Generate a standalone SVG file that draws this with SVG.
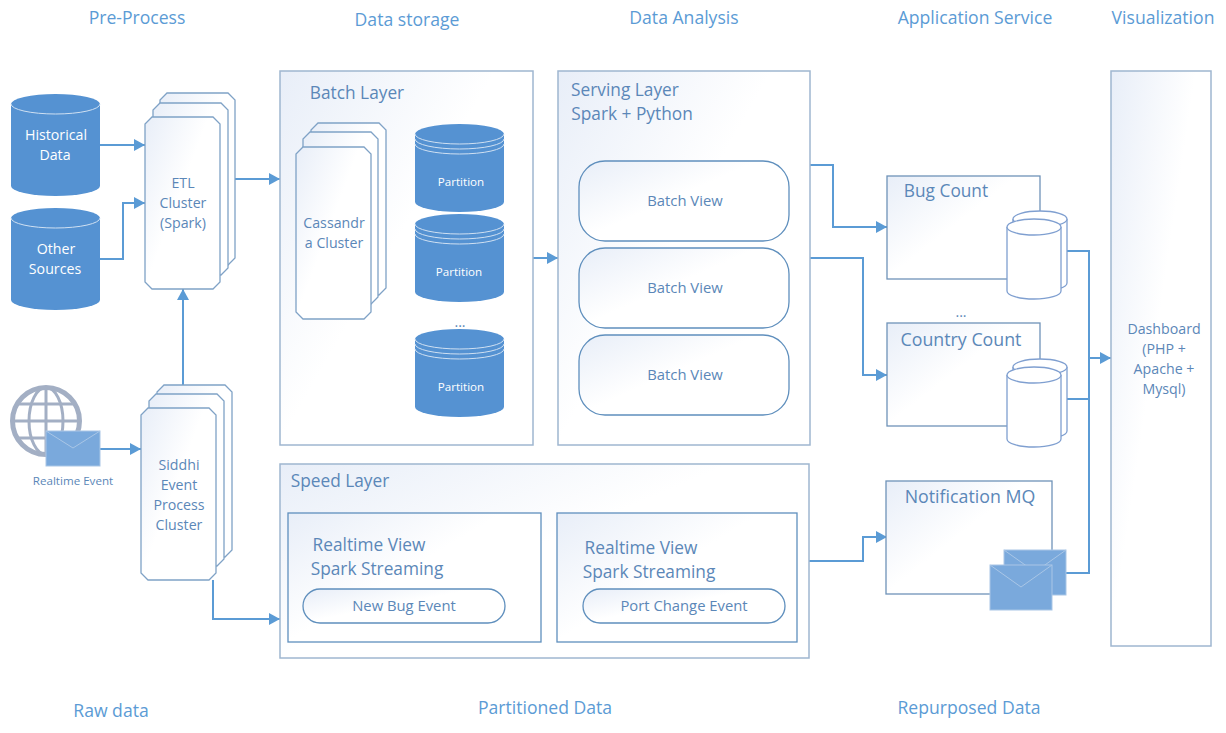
<svg xmlns="http://www.w3.org/2000/svg" xmlns:xlink="http://www.w3.org/1999/xlink" width="1226" height="733" viewBox="0 0 1226 733">
<style>
text{font-family:"Open Sans","Noto Sans","Liberation Sans",sans-serif;text-anchor:middle;fill:#5b87b8;font-size:14.2px}
.head{font-size:17.6px;fill:#5b9bd5}
.title{font-size:17.3px;fill:#5b87b8}
.wide{font-size:17.8px}
.mid{font-size:14.8px}
.white{fill:#fff}
.small{font-size:11.6px}
.box{fill:url(#g);stroke:#6f93b8;stroke-width:1.3}
.layer{fill:url(#g);stroke:#9fb6d0;stroke-width:1.5}
.inner{fill:url(#g);stroke:#5f8fbd;stroke-width:1.3}
.card{fill:url(#g);stroke:#7fa2c6;stroke-width:1.3}
.cyl{fill:#fff;stroke:#7f9fd0;stroke-width:1.3}
.blue{fill:#5592d2}
.env{fill:#7aa9dc;stroke:#a9c6e6;stroke-width:1}
.flap{fill:none;stroke:#a9c6e6;stroke-width:1}
.wire{fill:none;stroke:#5b9bd5;stroke-width:2;marker-end:url(#a)}
.plain{fill:none;stroke:#5b9bd5;stroke-width:2}
</style>
<defs>
<linearGradient id="g" x1="0" y1="0" x2="0.7" y2="0.6"><stop offset="0" stop-color="#e8eef8"/><stop offset="0.7" stop-color="#fff"/></linearGradient>
<marker id="a" markerUnits="userSpaceOnUse" markerWidth="12" markerHeight="12" refX="11" refY="6" orient="auto"><path d="M0 0L11 6L0 12Z" fill="#5b9bd5"/></marker>
<path id="oct" d="M7 0H68L75 7V165L68 172H7L0 165V7Z"/>
<g id="db"><path class="blue" d="M0 10A44.500 10 0 0 1 89 10V92A44.500 10 0 0 1 0 92Z"/><path d="M0 10A44.500 10 0 0 0 89 10" fill="none" stroke="#cfe0f2" stroke-width="1"/></g>
<g id="part"><path class="blue" d="M0 10A44.500 10 0 0 1 89 10V78A44.500 10 0 0 1 0 78Z"/><path d="M0 10A44.500 10 0 0 0 89 10M0 15A44.500 10 0 0 0 89 15M0 20A44.500 10 0 0 0 89 20" fill="none" stroke="#cfe0f2" stroke-width="1"/></g>
<g id="can"><path class="cyl" d="M0 8A27 8 0 0 1 54 8V72A27 8 0 0 1 0 72Z"/><path class="cyl" d="M0 8A27 8 0 0 0 54 8" fill="none"/></g>
<g id="mail"><rect class="env" width="62" height="45"/><path class="flap" d="M0 0L31 22L62 0"/></g>
</defs>

<g id="headings">
<text class="head" x="137" y="24">Pre-Process</text>
<text class="head" x="407" y="26">Data storage</text>
<text class="head" x="684" y="24">Data Analysis</text>
<text class="head" x="975" y="24">Application Service</text>
<text class="head" x="1163" y="24">Visualization</text>
<text class="head" x="111" y="717">Raw data</text>
<text class="head" x="545" y="714">Partitioned Data</text>
<text class="head" x="969" y="714">Repurposed Data</text>
</g>

<g id="connectors">
<path class="wire" d="M100 145H145"/>
<path class="wire" d="M100 259H123V203H145"/>
<path class="wire" d="M235 179H280"/>
<path class="wire" d="M183 385V289"/>
<path class="wire" d="M100 449H141"/>
<path class="wire" d="M213 580V619H280"/>
<path class="wire" d="M533 258H558"/>
<path class="wire" d="M810 165H833V227H887"/>
<path class="wire" d="M810 258H863V375H887"/>
<path class="wire" d="M809 561H863V537H887"/>
<path class="plain" d="M1067 251H1089V573H1066"/>
<path class="plain" d="M1067 399H1089"/>
<path class="wire" d="M1089 358H1111"/>
</g>

<g id="historical"><use href="#db" x="11" y="94"/><text class="white" x="56" y="140">Historical</text><text class="white" x="55" y="160">Data</text></g>
<g id="other"><use href="#db" x="11" y="208"/><text class="white" x="56" y="254">Other</text><text class="white" x="55" y="274">Sources</text></g>

<g id="etl">
<use href="#oct" class="card" x="160" y="93"/><use href="#oct" class="card" x="153" y="103"/><use href="#oct" class="card" x="145" y="117"/>
<text x="183" y="188">ETL</text><text x="183" y="208">Cluster</text><text x="183" y="228">(Spark)</text>
</g>

<g id="realtime-event">
<g fill="none" stroke="#a3afc4"><circle cx="46" cy="421" r="33.500" stroke-width="5"/><ellipse cx="46" cy="421" rx="17" ry="33.500" stroke-width="3"/><path d="M46 387V455M13 421H79M18 404H74M18 438H74" stroke-width="3"/></g>
<rect class="env" x="46" y="431" width="54" height="35"/><path class="flap" d="M46 431L73 448L100 431"/>
<text class="small" x="73" y="485">Realtime Event</text>
</g>

<g id="siddhi">
<use href="#oct" class="card" x="157" y="385"/><use href="#oct" class="card" x="149" y="394"/><use href="#oct" class="card" x="141" y="408"/>
<text x="179" y="470">Siddhi</text><text x="179" y="490">Event</text><text x="179" y="510">Process</text><text x="179" y="530">Cluster</text>
</g>

<g id="batch-layer">
<rect class="layer" x="280" y="71" width="253" height="374"/>
<text class="title" x="357" y="99">Batch Layer</text>
</g>
<g id="cassandra">
<use href="#oct" class="card" x="311" y="123"/><use href="#oct" class="card" x="303" y="132"/><use href="#oct" class="card" x="296" y="147"/>
<text x="334" y="228">Cassandr</text><text x="334" y="248">a Cluster</text>
</g>
<g id="partition-1"><use href="#part" x="415" y="124"/><text class="white small" x="461" y="186">Partition</text></g>
<g id="partition-2"><use href="#part" x="415" y="214"/><text class="white small" x="459" y="276">Partition</text></g>
<text x="460" y="327">...</text>
<g id="partition-3"><use href="#part" x="415" y="329"/><text class="white small" x="461" y="391">Partition</text></g>

<g id="serving-layer">
<rect class="layer" x="558" y="71" width="252" height="374"/>
<text class="title" x="625" y="96">Serving Layer</text><text class="title" x="632" y="120">Spark + Python</text>
</g>
<g id="batch-view-1"><rect class="inner" x="579" y="161" width="210" height="80" rx="26"/><text class="mid" x="685" y="206">Batch View</text></g>
<g id="batch-view-2"><rect class="inner" x="579" y="248" width="210" height="80" rx="26"/><text class="mid" x="685" y="293">Batch View</text></g>
<g id="batch-view-3"><rect class="inner" x="579" y="335" width="210" height="80" rx="26"/><text class="mid" x="685" y="380">Batch View</text></g>

<g id="speed-layer">
<rect class="layer" x="280" y="464" width="529" height="194"/>
<text class="title" x="340" y="487">Speed Layer</text>
</g>
<g id="realtime-view-1">
<rect class="inner" x="288" y="513" width="253" height="129"/>
<text class="title" x="369" y="551">Realtime View</text><text class="title" x="377" y="575">Spark Streaming</text>
<rect class="inner" x="303" y="589" width="202" height="34" rx="17"/><text class="mid" x="404" y="611">New Bug Event</text>
</g>
<g id="realtime-view-2">
<rect class="inner" x="557" y="513" width="240" height="129"/>
<text class="title" x="641" y="554">Realtime View</text><text class="title" x="649" y="578">Spark Streaming</text>
<rect class="inner" x="583" y="589" width="202" height="34" rx="17"/><text class="mid" x="684" y="611">Port Change Event</text>
</g>

<g id="bug-count">
<rect class="box" x="887" y="176" width="153" height="103"/>
<text class="title" x="946" y="197">Bug Count</text>
<use href="#can" x="1013" y="211"/><use href="#can" x="1007" y="219"/>
</g>
<text x="961" y="317">...</text>
<g id="country-count">
<rect class="box" x="887" y="323" width="153" height="103"/>
<text class="title wide" x="961" y="346">Country Count</text>
<use href="#can" x="1013" y="359"/><use href="#can" x="1007" y="367"/>
</g>
<g id="notification-mq">
<rect class="box" x="886" y="481" width="166" height="113"/>
<text class="title wide" x="970" y="503">Notification MQ</text>
<use href="#mail" x="1004" y="550"/><use href="#mail" x="990" y="565"/>
</g>

<g id="dashboard">
<rect class="layer" x="1111" y="71" width="100" height="575"/>
<text x="1164" y="334">Dashboard</text><text x="1164" y="354">(PHP +</text><text x="1164" y="374">Apache +</text><text x="1164" y="394">Mysql)</text>
</g>
</svg>
